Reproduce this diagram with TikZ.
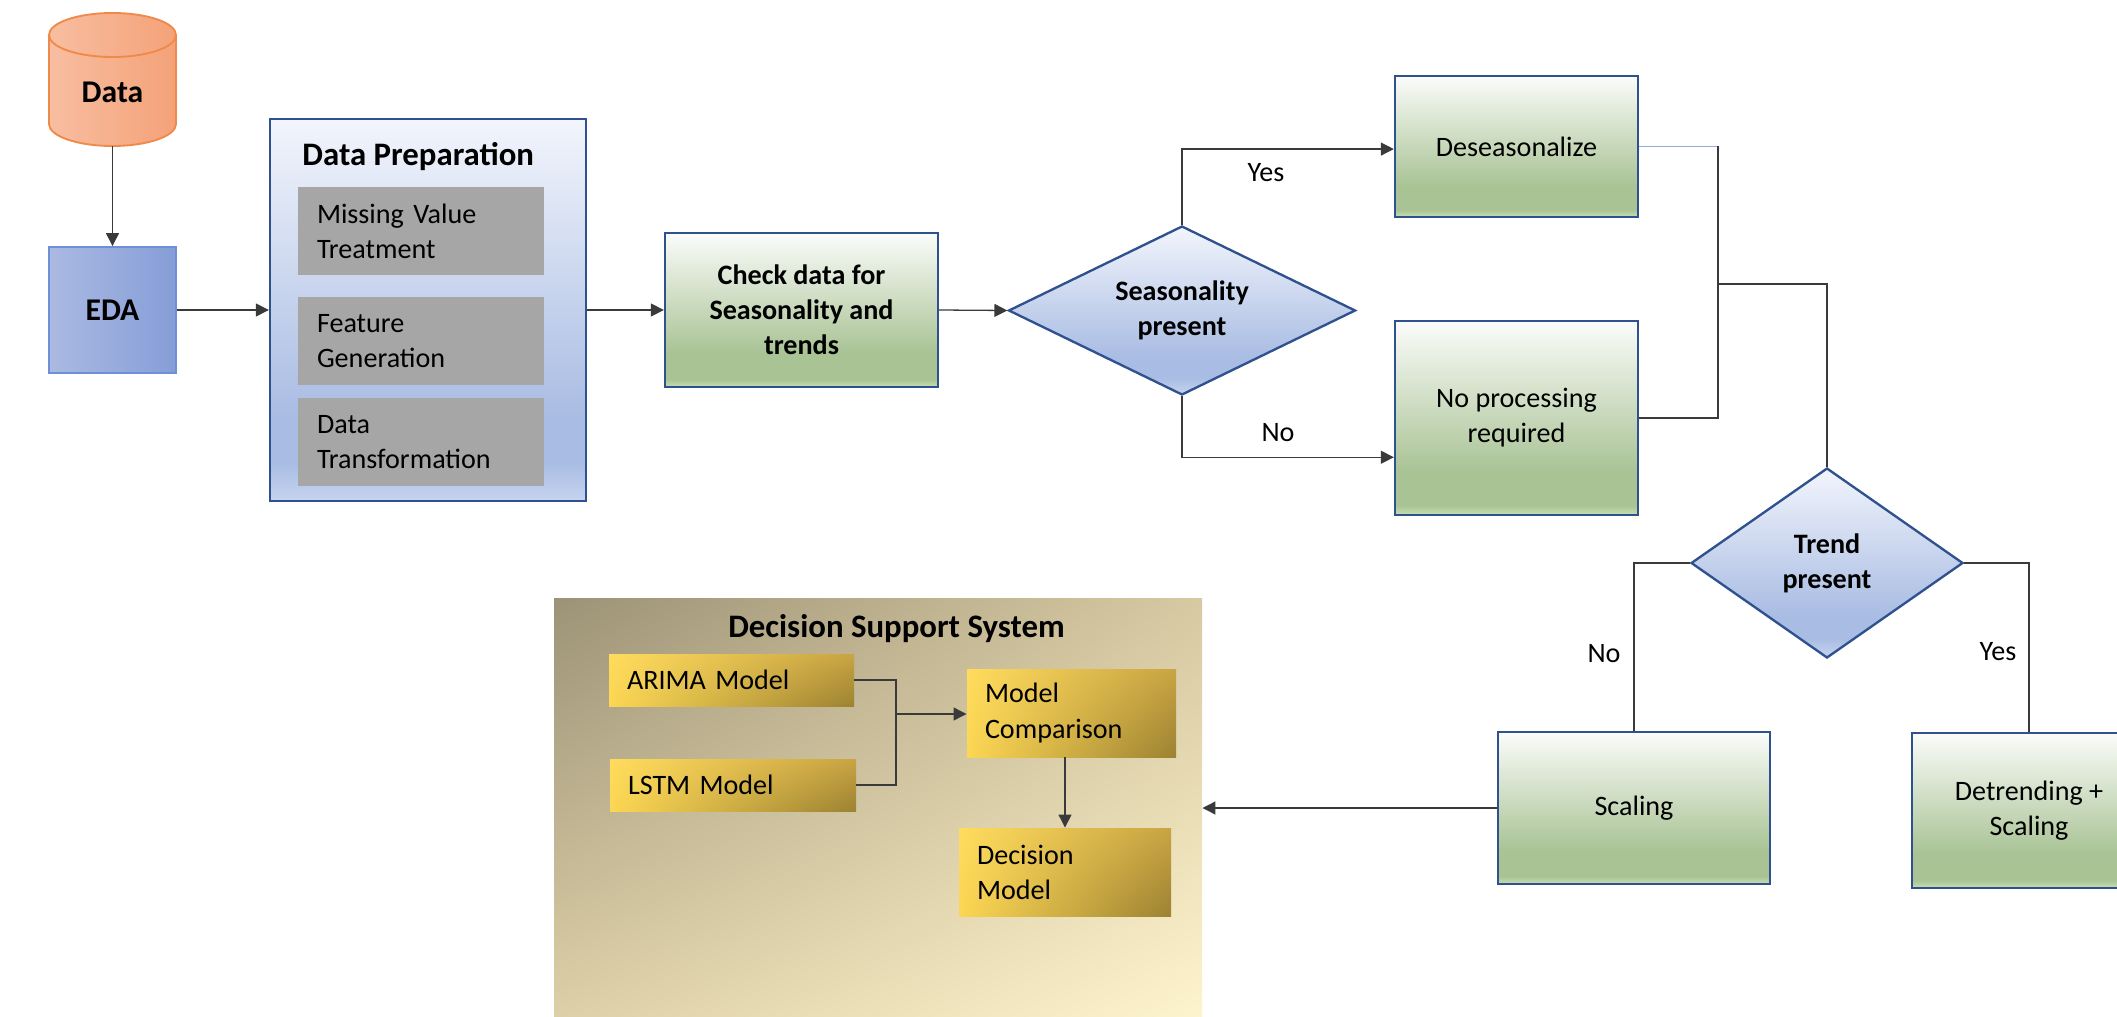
\documentclass[tikz,border=0pt]{standalone}
\usepackage{fontspec}
\setmainfont{Carlito}
\usetikzlibrary{arrows.meta,shapes.geometric,shadings,calc}

\definecolor{gA}{HTML}{C5E0B3}
\definecolor{gB}{HTML}{A9C395}
\definecolor{gT}{HTML}{FBFCFA}
\definecolor{bA}{HTML}{C6D4EF}
\definecolor{bB}{HTML}{A9BCE3}
\definecolor{bT}{HTML}{F2F5FC}
\definecolor{bordB}{HTML}{2F528F}
\definecolor{edaL}{HTML}{AABAE2}
\definecolor{edaR}{HTML}{869DD7}
\definecolor{edaB}{HTML}{6F8FD8}
\definecolor{cylL}{HTML}{F8BEA1}
\definecolor{cylR}{HTML}{F4A278}
\definecolor{cylB}{HTML}{F08A4B}
\definecolor{greyC}{HTML}{A6A6A6}
\definecolor{lineC}{HTML}{3A3A3A}
\definecolor{lblue}{HTML}{8EAEE0}
\definecolor{yUL}{HTML}{FFDC5D}
\definecolor{yLL}{HTML}{FCD653}
\definecolor{yUR}{HTML}{C9A443}
\definecolor{yLR}{HTML}{9C8232}
\definecolor{dUL}{HTML}{9C9276}
\definecolor{dUR}{HTML}{D7C9A2}
\definecolor{dLL}{HTML}{DDD0A8}
\definecolor{dLR}{HTML}{FDF3CC}

\pgfdeclareverticalshading{greensh}{100bp}{color(0bp)=(gA); color(25bp)=(gA); color(27.5bp)=(gB); color(36bp)=(gB); color(75bp)=(gT); color(100bp)=(gT)}
\pgfdeclareverticalshading{bluesh}{100bp}{color(0bp)=(bA); color(25bp)=(bA); color(30bp)=(bB); color(36bp)=(bB); color(75bp)=(bT); color(100bp)=(bT)}

\tikzset{
  px/.style 2 args={minimum width=#1*0.015cm, minimum height=#2*0.015cm},
  txt/.style={font=\fontsize{12}{15}\selectfont},
  btxt/.style={font=\bfseries\fontsize{12}{15}\selectfont},
  ttl/.style={font=\bfseries\fontsize{14}{17}\selectfont, inner sep=0pt},
  con/.style={draw=lineC, line width=0.55pt},
  arr/.style={con, -{Triangle[length=5.5pt,width=5.5pt]}},
  greenbox/.style={rectangle, draw=bordB, line width=1pt, shading=greensh, inner sep=0pt, align=center, txt},
  dia/.style={diamond, aspect=2, draw=bordB, line width=1pt, shading=bluesh, inner sep=0pt, align=center, btxt},
  greybox/.style={rectangle, fill=greyC, inner xsep=0.285cm, inner ysep=0pt, align=left, txt, minimum height=1.32cm, text width=3.12cm},
  ybox/.style={rectangle, inner xsep=0.27cm, inner ysep=0pt, align=left, txt, upper left=yUL, lower left=yLL, upper right=yUR, lower right=yLR},
  lbl/.style={txt, inner sep=0pt},
}

\begin{document}
\begin{tikzpicture}[x=0.015cm, y=-0.015cm]
\path[use as bounding box, clip] (0,0) rectangle (2117,1016);

% Data cylinder
\path[left color=cylL, right color=cylR, draw=cylB, line width=0.8pt]
  (49,35) -- (49,124) arc[start angle=180, end angle=360, x radius=0.9525cm, y radius=0.33cm]
  -- (176,35) arc[start angle=0, end angle=180, x radius=0.9525cm, y radius=0.33cm] -- cycle;
\draw[cylB, line width=0.8pt] (49,35) arc[start angle=180, end angle=360, x radius=0.9525cm, y radius=0.33cm];
\node[px={127}{133}, inner sep=0pt] (data) at (112.5,79.5) {};
\node[font=\bfseries\fontsize{13.5}{16}\selectfont, inner sep=0pt] (datatxt) at (112.5,92) {Data};

% EDA
\node[rectangle, left color=edaL, right color=edaR, draw=edaB, line width=0.8pt, px={127}{126},
      font=\bfseries\fontsize{13.5}{16}\selectfont] (eda) at (112.5,310) {EDA};

% Data preparation
\node[rectangle, draw=bordB, line width=1pt, shading=bluesh, px={316}{382}] (prep) at (428,310) {};
\node[ttl, anchor=west] (preptitle) at (302,157) {Data Preparation};
\node[greybox] (g1) at (421,231) {Missing Value\\Treatment};
\node[greybox] (g2) at (421,341) {Feature\\Generation};
\node[greybox] (g3) at (421,442) {Data\\Transformation};

% Check
\node[greenbox, btxt, px={273}{154}] (check) at (801.5,310) {Check data for\\Seasonality and\\trends};

% Seasonality diamond
\node[dia, px={347}{169}] (seas) at (1182,310.5) {Seasonality\\present};

% Deseasonalize / No processing
\node[greenbox, px={243}{141}] (des) at (1516.5,146.5) {Deseasonalize};
\node[greenbox, px={243}{194}] (nop) at (1516.5,418) {No processing\\required};

% Trend diamond
\node[dia, aspect=1.4, px={272}{190}] (trend) at (1827,563) {Trend\\present};

% Scaling / Detrending
\node[greenbox, px={272}{152}] (scal) at (1634,808) {Scaling};
\node[greenbox, px={234}{155}] (det) at (2029,810.5) {Detrending +\\Scaling};

% Decision support system
\node[rectangle, px={648}{418}, upper left=dUL, upper right=dUR, lower left=dLL, lower right=dLR] (dss) at (878,807) {};
\node[ttl] (dsstitle) at (896.5,629) {Decision Support System};
\node[ybox, px={245}{52}, text width=3.135cm] (arima) at (731.5,680) {ARIMA Model};
\node[ybox, px={246}{52}, text width=3.15cm] (lstm) at (733,785) {LSTM Model};
\node[ybox, px={209}{88}, text width=2.595cm] (mc) at (1071.5,713) {Model\\Comparison};
\node[ybox, px={212}{88}, text width=2.64cm] (dm) at (1065,872) {Decision\\Model};

% connectors
\draw[arr] (data.south) -- (eda.north);
\draw[arr] (eda.east) -- (prep.west);
\draw[arr] (prep.east) -- (check.west);
\draw[arr] (check.east) -- (seas.west);
\draw[arr] (seas.north) |- ($(des.north west)!0.518!(des.south west)$);
\draw[arr] (seas.south) |- ($(nop.north west)!0.70!(nop.south west)$);
\node[lbl] (yes1) at (1266,173) {Yes};
\node[lbl] (no1) at (1278,433) {No};

\coordinate (jx) at (1718,284);
\draw[lblue, line width=0.8pt] (des.east) -- (des.east -| jx);
\draw[con] (des.east -| jx) -- (nop.east -| jx) -- (nop.east);
\draw[con] (jx) -| (trend.north);

\draw[con] (trend.west) -| (scal.north);
\draw[con] (trend.east) -| (det.north);
\node[lbl] (no2) at (1604,654) {No};
\node[lbl] (yes2) at (1998,652) {Yes};

\draw[arr] (scal.west) -- (scal.west -| dss.east);

\coordinate (jm) at (896,714);
\draw[con] (arima.east) -| (jm) |- (lstm.east);
\draw[arr] (jm) -- (mc.west |- jm);
\draw[arr] (dm.north |- mc.south) -- (dm.north);
\end{tikzpicture}
\end{document}
